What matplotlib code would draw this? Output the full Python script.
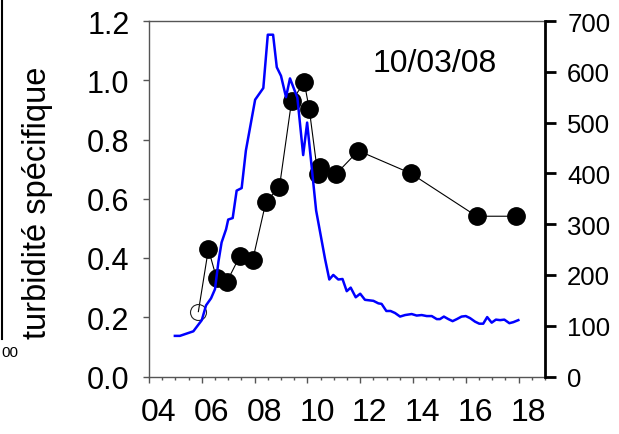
import matplotlib
matplotlib.use('Agg')
import matplotlib.pyplot as plt
import matplotlib.transforms as mtransforms
from matplotlib.lines import Line2D

plt.rcParams['font.family'] = ['Liberation Sans', 'DejaVu Sans']

# turbidité spécifique samples (hour of day, value); first sample is drawn hollow
turb_hours = [5.87, 6.25, 6.56, 6.94, 7.45, 7.93, 8.43, 8.94, 9.40, 9.88,
              10.07, 10.39, 10.48, 11.09, 11.93, 13.91, 16.41, 17.89]
turb_values = [0.219, 0.430, 0.331, 0.318, 0.408, 0.394, 0.590, 0.639, 0.929, 0.993,
               0.903, 0.684, 0.706, 0.684, 0.762, 0.686, 0.541, 0.541]

# continuous record on the right axis
flow_hours = [4.98, 5.17, 5.68, 6.00, 6.16, 6.35, 6.50, 6.63, 6.75, 6.92,
              7.00, 7.17, 7.32, 7.51, 7.67, 8.02, 8.33, 8.50, 8.70, 8.84,
              9.00, 9.19, 9.34, 9.62, 9.84, 9.99, 10.33, 10.67, 10.83, 10.98,
              11.17, 11.33, 11.49, 11.64, 11.83, 12.00, 12.18, 12.50, 12.69, 12.81,
              12.99, 13.15, 13.32, 13.51, 13.70, 13.95, 14.14, 14.33, 14.52, 14.71,
              14.90, 15.02, 15.17, 15.34, 15.50, 15.66, 15.84, 16.00, 16.16, 16.35,
              16.51, 16.66, 16.81, 16.98, 17.14, 17.30, 17.46, 17.65, 17.80, 17.99]
flow_values = [80, 80, 89, 111, 140, 154, 172, 226, 264, 290,
               309, 312, 366, 371, 445, 545, 568, 673, 673, 609,
               592, 550, 587, 549, 436, 500, 327, 231, 191, 200,
               191, 192, 168, 175, 156, 163, 151, 149, 144, 143,
               129, 129, 125, 118, 121, 123, 120, 121, 119, 119,
               113, 113, 118, 113, 109, 113, 118, 119, 115, 108,
               104, 104, 117, 106, 112, 111, 112, 105, 107, 111]

x_ticks = [4, 6, 8, 10, 12, 14, 16, 18]
x_labels = ['04', '06', '08', '10', '12', '14', '16', '18']
left_ticks = [0.0, 0.2, 0.4, 0.6, 0.8, 1.0, 1.2]
right_ticks = [0, 100, 200, 300, 400, 500, 600, 700]

W, H = 619, 435
fig = plt.figure(figsize=(W / 100, H / 100), dpi=100)
ax = fig.add_axes([149 / W, 57.5 / H, 396 / W, 355.5 / H])
ax2 = ax.twinx()

# black sample series on the left axis
ax.plot(turb_hours, turb_values, color='black', lw=0.8, zorder=2)
ax.plot(turb_hours[1:], turb_values[1:], 'o', color='black', ms=12.5, zorder=3)
ax.plot(turb_hours[:1], turb_values[:1], 'o', mfc='none', mec='#222222', mew=0.8,
        ms=11.5, zorder=3)

# blue record on the right axis
ax2.plot(flow_hours, flow_values, color='#0000ff', lw=1.8)

ax.set_xlim(4, 19)
ax.set_ylim(0, 1.2)
ax2.set_ylim(0, 700)

ax.set_xticks(x_ticks)
ax.set_xticklabels(x_labels)
ax.set_xticks([4 + 0.5 * i for i in range(31)], minor=True)
ax.set_yticks(left_ticks)
ax.set_yticklabels(['%.1f' % v for v in left_ticks])
ax2.set_yticks(right_ticks)

gray = '#555555'
for side in ['left', 'bottom', 'top']:
    ax.spines[side].set_color(gray)
    ax.spines[side].set_linewidth(1.0)
ax.spines['right'].set_visible(False)
for side in ['left', 'bottom', 'top']:
    ax2.spines[side].set_visible(False)
ax2.spines['right'].set_color('black')
ax2.spines['right'].set_linewidth(2.0)

ax.tick_params(axis='y', direction='out', length=4, width=1, color=gray,
               labelsize=22, pad=10)
ax.tick_params(axis='x', which='major', direction='out', length=4, width=1,
               color=gray, labelsize=23, pad=11)
ax.tick_params(axis='x', which='minor', direction='out', length=2.5, width=1,
               color=gray)
ax2.tick_params(axis='y', direction='out', length=8, width=2, color='black',
                labelsize=18.5, pad=8)

# hour labels sit a little to the right of their ticks
shift = mtransforms.ScaledTranslation(9.5 / 100, 0, fig.dpi_scale_trans)
for lab in ax.get_xticklabels():
    lab.set_transform(lab.get_transform() + shift)

ax.set_ylabel('turbidité spécifique', fontsize=23.5)
ax.yaxis.set_label_coords(-0.243, 0.49)

fig.text(435 / W, 1 - 64 / H, '10/03/08', fontsize=23, ha='center', va='center')

# edge of the neighbouring panel
fig.add_artist(Line2D([2 / W, 2 / W], [1.0, 1 - 340 / H], color='black', lw=1.5))
fig.text(1 / W, 1 - 353 / H, '00', fontsize=11, ha='left', va='center')

fig.savefig('out.png', dpi=100)
